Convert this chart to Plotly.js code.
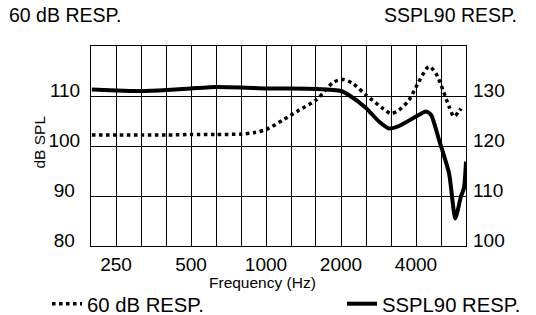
<!DOCTYPE html>
<html>
<head>
<meta charset="utf-8">
<script src="https://cdn.plot.ly/plotly-3.0.1.min.js"></script>
<style>html,body{margin:0;padding:0;background:#fff;}#chart{width:536px;height:315px;}</style>
</head>
<body>
<div id="chart"></div>
<script>
// 60 dB response (left axis, dB SPL)
const freq60 = [200,250,315,400,500,630,800,900,1000,1170,1360,1590,1860,2040,2230,2520,2950,3175,3420,3750,4110,4510,4810,5130,5430,5680,5950,6060];
const resp60 = [102.2,102.2,102.2,102.2,102.3,102.3,102.4,102.7,103.3,105.2,107.2,109.2,112.7,113.3,112.5,110.2,107.5,106.5,107.2,109.2,112.9,115.9,114.5,111.2,107.9,105.9,106.9,107.5];
// SSPL90 response (right axis)
const freqSSPL = [200,250,315,400,500,630,800,1000,1250,1590,2000,2150,2520,2840,3120,3420,4000,4390,4600,4950,5430,5750,6060,6230,6350];
const respSSPL = [131.3,131.1,131.0,131.2,131.5,131.8,131.7,131.5,131.5,131.4,131.0,130.2,127.6,124.9,123.5,124.0,125.9,126.9,126.2,121.2,114.5,105.5,109.9,111.6,116.9];
// axes
const gridFreqs = [198.4,250,315,396.9,500,630,793.7,1000,1260,1587,2000,2520,3175,4000,5040,6350];
const freqLabels = ["","250","","","500","","","1000","","","2000","","","4000","",""];
const leftTicks = [80,90,100,110];
const leftLabels = ["80\u00a0","90\u00a0","100","110"];
const rightTicks = [100,110,120,130];
const rightLabels = ["100","110","120","130"];
const names = ["60 dB RESP.","SSPL90 RESP."];

const FONT = "Liberation Sans, Arial, sans-serif";
const traces = [
  {x: freq60, y: resp60, name: names[0], type: "scatter", mode: "lines", legend: "legend",
   line: {color: "#000", width: 3.5, dash: "dot", shape: "spline", smoothing: 0.8}, yaxis: "y"},
  {x: freqSSPL, y: respSSPL, name: names[1], type: "scatter", mode: "lines", legend: "legend2",
   line: {color: "#000", width: 4, shape: "spline", smoothing: 0.6}, yaxis: "y2"}
];
const PW = 375, PH = 200, L = 91, T = 46;
function px(x){ return (x - L)/PW; }
function py(y){ return (T + PH - y)/PH; }
const legendBase = {orientation: "h", xanchor: "left", y: py(304), yanchor: "middle",
  font: {size: 20.3, color: "#000"}, bgcolor: "rgba(0,0,0,0)", borderwidth: 0};
const layout = {
  width: 536, height: 315,
  margin: {l: 91, r: 70, t: 46, b: 69, autoexpand: false},
  paper_bgcolor: "#fff", plot_bgcolor: "#fff",
  font: {family: FONT, size: 19, color: "#000"},
  showlegend: true,
  legend: Object.assign({}, legendBase, {x: px(47)}),
  legend2: Object.assign({}, legendBase, {x: px(342)}),
  xaxis: {type: "log", range: [Math.log10(198.43), Math.log10(6349.6)],
          tickmode: "array", tickvals: gridFreqs, ticktext: freqLabels,
          showgrid: true, gridcolor: "#000", gridwidth: 1,
          showline: true, linecolor: "#000", linewidth: 1, mirror: true,
          ticks: "", zeroline: false, ticklabelstandoff: 1, tickfont: {size: 19, color: "#000"}},
  yaxis: {range: [80, 120], tickmode: "array", tickvals: leftTicks, ticktext: leftLabels,
          showgrid: true, gridcolor: "#000", gridwidth: 1,
          showline: true, linecolor: "#000", linewidth: 1, mirror: true,
          ticks: "", zeroline: false, ticklabelposition: "outside top", ticklabelshift: 8, ticklabelstandoff: 6,
          tickfont: {size: 19, color: "#000"}},
  yaxis2: {range: [100, 140], overlaying: "y", side: "right",
          tickmode: "array", tickvals: rightTicks, ticktext: rightLabels,
          showgrid: false, zeroline: false, ticks: "", ticklabelposition: "outside top", ticklabelshift: 8, ticklabelstandoff: 6,
          tickfont: {size: 19, color: "#000"}},
  annotations: [
    {text: names[0], xref: "paper", yref: "paper", x: px(7), xanchor: "left", y: py(15.5), yanchor: "middle",
     showarrow: false, font: {size: 19.5, color: "#000"}},
    {text: names[1], xref: "paper", yref: "paper", x: px(519), xanchor: "right", y: py(15.5), yanchor: "middle",
     showarrow: false, font: {size: 19.5, color: "#000"}},
    {text: "Frequency (Hz)", xref: "paper", yref: "paper", x: px(262.5), xanchor: "center", y: py(282.5), yanchor: "middle",
     borderpad: 0, showarrow: false, font: {size: 15.5, color: "#000"}},
    {text: "dB SPL", xref: "paper", yref: "paper", x: px(39), xanchor: "center", y: py(142.5), yanchor: "middle",
     textangle: -90, showarrow: false, font: {size: 15.5, color: "#000"}}
  ]
};
Plotly.newPlot("chart", traces, layout, {displayModeBar: false, staticPlot: true});
</script>
</body>
</html>
